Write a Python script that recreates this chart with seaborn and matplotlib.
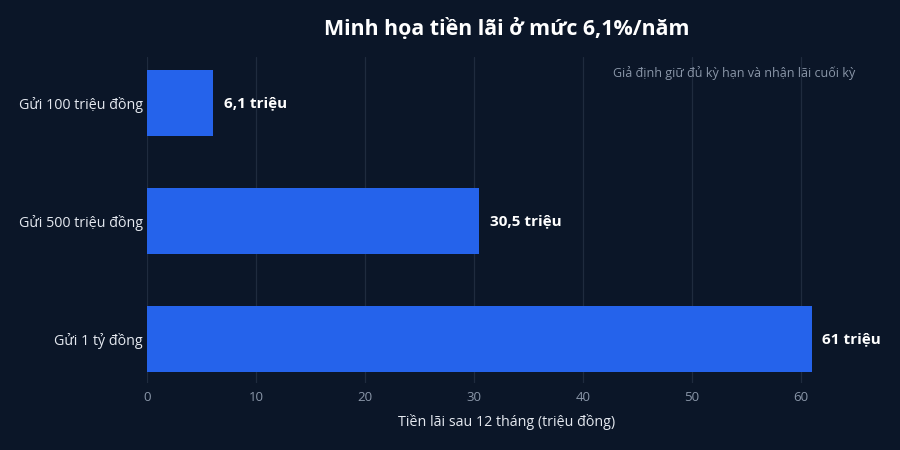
import matplotlib
matplotlib.use("Agg")
import matplotlib.pyplot as plt
import seaborn as sns
import pandas as pd

categories = ["Gửi 100 triệu đồng", "Gửi 500 triệu đồng", "Gửi 1 tỷ đồng"]
values = [6.1, 30.5, 61.0]
value_labels = ["6,1 triệu", "30,5 triệu", "61 triệu"]
x_ticks = [0, 10, 20, 30, 40, 50, 60]

BG = "#0b1628"
BAR = "#2563eb"

sns.set_theme(style="dark")
plt.rcParams['font.family'] = ['Open Sans', 'Noto Sans', 'DejaVu Sans']

df = pd.DataFrame({"cat": categories, "val": values})

fig = plt.figure(figsize=(9, 4.5), dpi=100, facecolor=BG)
ax = fig.add_axes([0.1633, 0.149, 0.799, 0.724])
ax.set_facecolor(BG)

sns.barplot(data=df, x="val", y="cat", orient="h", color=BAR, width=0.56,
            saturation=1, ax=ax, zorder=3, edgecolor="none", linewidth=0)

ax.set_xlim(0, 66)
ax.set_ylim(2.37, -0.39)
ax.set_xticks(x_ticks)
ax.grid(axis="x", color="#1f2b3e", linewidth=0.9, zorder=0)
ax.grid(axis="y", visible=False)
for s in ax.spines.values():
    s.set_visible(False)

ax.tick_params(axis="x", colors="#8a96a8", labelsize=9.5, length=0, pad=6)
ax.tick_params(axis="y", colors="#e5e9f0", labelsize=10.3, length=0, pad=3)
for lbl in ax.get_xticklabels():
    lbl.set_color("#8a96a8")
for lbl in ax.get_yticklabels():
    lbl.set_color("#e5e9f0")

ax.set_ylabel("")
ax.set_xlabel("Tiền lãi sau 12 tháng (triệu đồng)", color="#e5e9f0", fontsize=10.3, labelpad=7)

for i, (v, t) in enumerate(zip(values, value_labels)):
    ax.text(v + 1.0, i, t, color="white", fontsize=11, fontweight="bold",
            va="center", ha="left")

fig.text(0.563, 0.935, "Minh họa tiền lãi ở mức 6,1%/năm", color="white",
         fontsize=15.4, fontweight="bold", ha="center", va="center")
ax.text(0.985, 0.951, "Giả định giữ đủ kỳ hạn và nhận lãi cuối kỳ", color="#8a96a8",
        fontsize=9, ha="right", va="center", transform=ax.transAxes)

fig.savefig("out.png", dpi=100, facecolor=BG)
